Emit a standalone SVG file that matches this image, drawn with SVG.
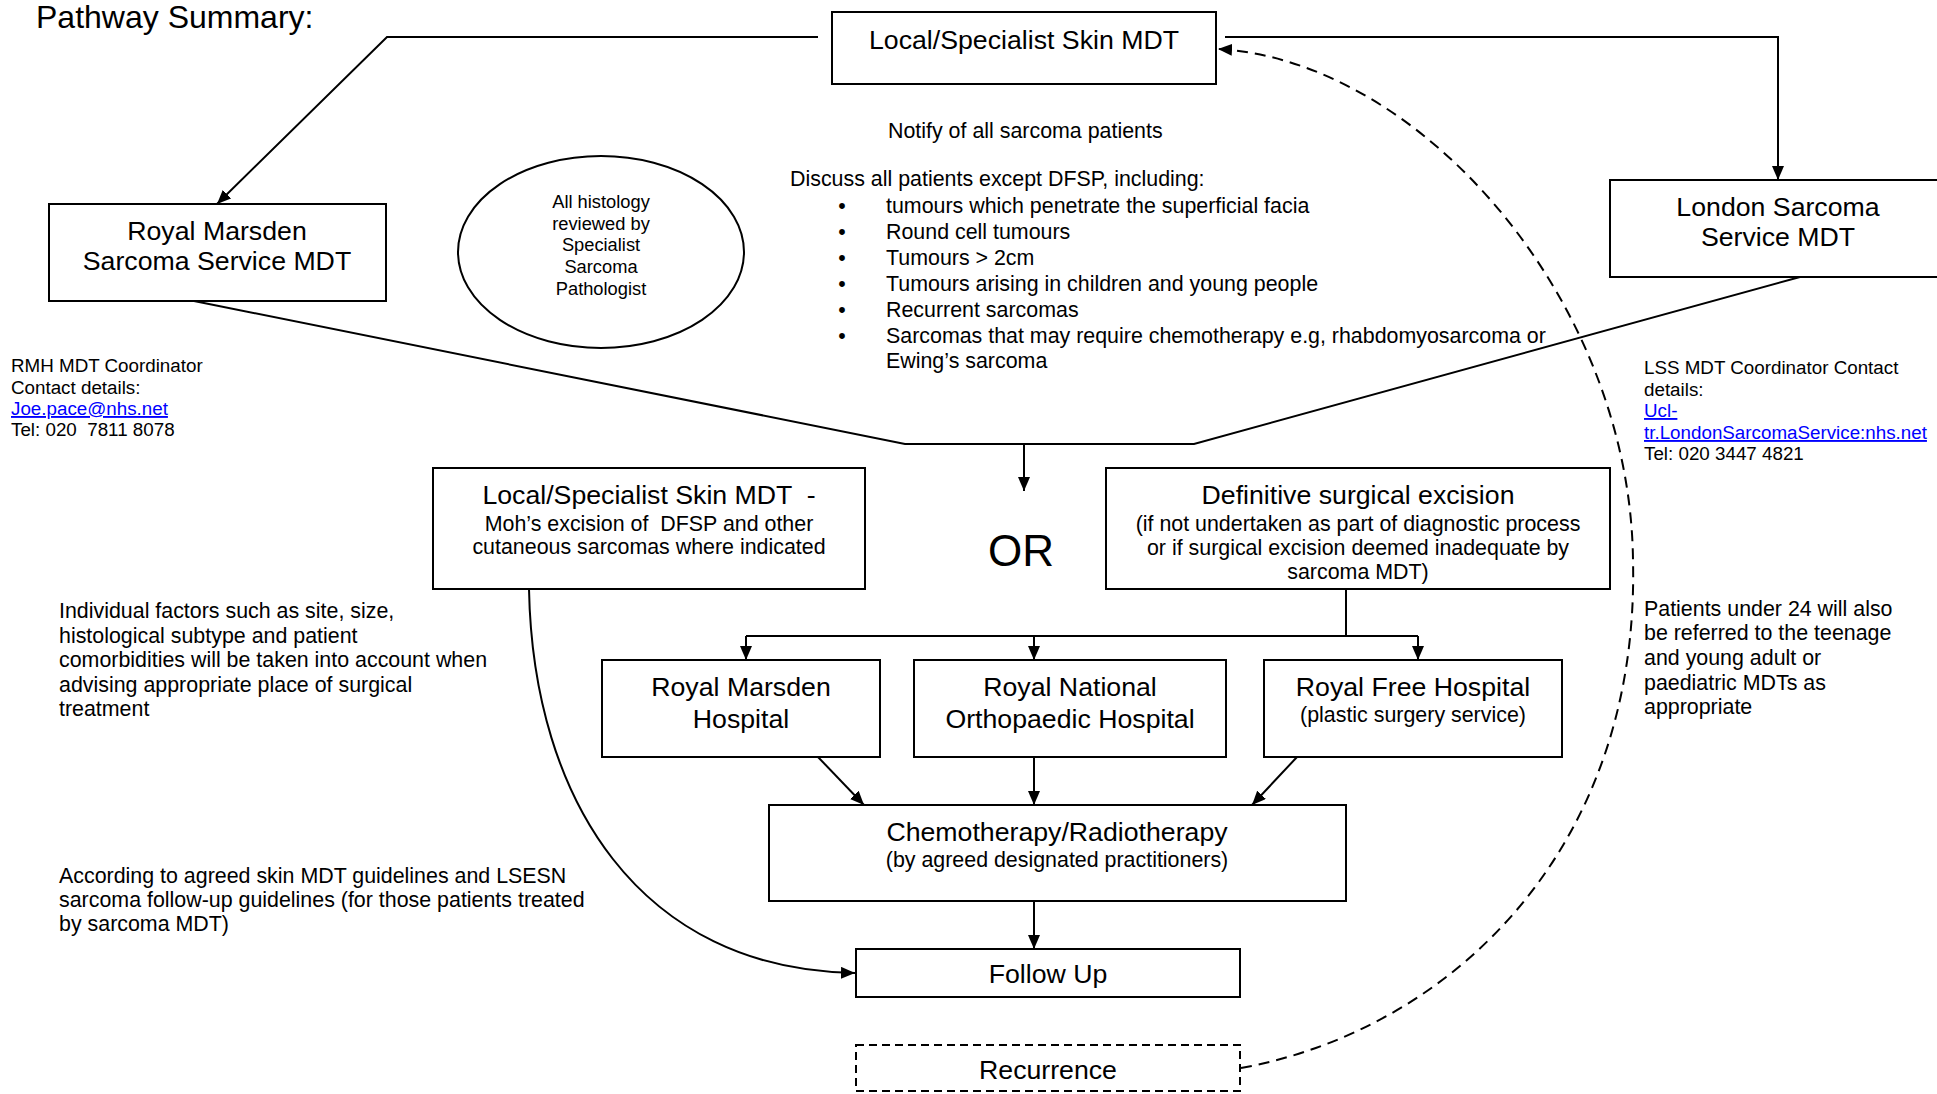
<svg xmlns="http://www.w3.org/2000/svg" width="1937" height="1094" viewBox="0 0 1937 1094">
<style>
  text { font-family: "Liberation Sans", Arial, sans-serif; fill: #000; }
  .box { fill: #fff; stroke: #000; stroke-width: 2; }
  .dbox { fill: #fff; stroke: #000; stroke-width: 2; stroke-dasharray: 8 5; }
  .ln { fill: none; stroke: #000; stroke-width: 2; }
  .dash { fill: none; stroke: #000; stroke-width: 2; stroke-dasharray: 11 7; }
  .t26 { font-size: 26.7px; }
  .t21 { font-size: 21.4px; }
  .t18 { font-size: 18.8px; }
  .t17 { font-size: 18.3px; }
  .mid { text-anchor: middle; }
  .link { fill: #0000ff; text-decoration: underline; }
</style>
<defs>
  <marker id="arr" viewBox="0 0 14 12" refX="14" refY="6" markerWidth="14" markerHeight="12" markerUnits="userSpaceOnUse" orient="auto">
    <path d="M0,0 L14,6 L0,12 Z" fill="#000" stroke="none"/>
  </marker>
</defs>
<rect x="0" y="0" width="1937" height="1094" fill="#fff"/>

<text x="36" y="28" font-size="32">Pathway Summary:</text>

<g id="connectors">
  <polyline class="ln" points="818,37 387,37 217,204" marker-end="url(#arr)"/>
  <polyline class="ln" points="1225,37 1778,37 1778,180" marker-end="url(#arr)"/>
  <polyline class="ln" points="194,301 905,444 1194,444 1800,277"/>
  <line class="ln" x1="1024" y1="444" x2="1024" y2="491" marker-end="url(#arr)"/>
  <polyline class="ln" points="1346,589 1346,636"/>
  <line class="ln" x1="746" y1="636" x2="1418" y2="636"/>
  <line class="ln" x1="746" y1="636" x2="746" y2="660" marker-end="url(#arr)"/>
  <line class="ln" x1="1034" y1="636" x2="1034" y2="660" marker-end="url(#arr)"/>
  <line class="ln" x1="1418" y1="636" x2="1418" y2="660" marker-end="url(#arr)"/>
  <line class="ln" x1="818" y1="757" x2="864" y2="805" marker-end="url(#arr)"/>
  <line class="ln" x1="1034" y1="757" x2="1034" y2="805" marker-end="url(#arr)"/>
  <line class="ln" x1="1297" y1="757" x2="1252" y2="805" marker-end="url(#arr)"/>
  <line class="ln" x1="1034" y1="901" x2="1034" y2="949" marker-end="url(#arr)"/>
  <path class="ln" d="M529,589 C533,800 640,970 855,973" marker-end="url(#arr)"/>
  <path class="dash" d="M1241,1068 C1450,1030 1640,850 1633,560 C1630,300 1420,60 1218,49" marker-end="url(#arr)"/>
</g>

<g id="local-skin-mdt">
  <rect class="box" x="832" y="12" width="384" height="72"/>
  <text class="t26 mid" x="1024" y="49">Local/Specialist Skin MDT</text>
</g>

<g id="royal-marsden-mdt">
  <rect class="box" x="49" y="204" width="337" height="97"/>
  <text class="t26 mid" x="217" y="240">Royal Marsden</text>
  <text class="t26 mid" x="217" y="270">Sarcoma Service MDT</text>
</g>

<g id="london-sarcoma-mdt">
  <rect class="box" x="1610" y="180" width="340" height="97"/>
  <text class="t26 mid" x="1778" y="216">London Sarcoma</text>
  <text class="t26 mid" x="1778" y="246">Service MDT</text>
</g>

<g id="histology">
  <ellipse cx="601" cy="252" rx="143" ry="96" fill="#fff" stroke="#000" stroke-width="2"/>
  <text class="t17 mid" x="601" y="208">All histology</text>
  <text class="t17 mid" x="601" y="230">reviewed by</text>
  <text class="t17 mid" x="601" y="251">Specialist</text>
  <text class="t17 mid" x="601" y="273">Sarcoma</text>
  <text class="t17 mid" x="601" y="295">Pathologist</text>
</g>

<g id="notes-center">
  <text class="t21" x="888" y="138">Notify of all sarcoma patients</text>
  <text class="t21" x="790" y="186">Discuss all patients except DFSP, including:</text>
  <text class="t21 mid" x="842" y="213">•</text>
  <text class="t21" x="886" y="213">tumours which penetrate the superficial facia</text>
  <text class="t21 mid" x="842" y="239">•</text>
  <text class="t21" x="886" y="239">Round cell tumours</text>
  <text class="t21 mid" x="842" y="265">•</text>
  <text class="t21" x="886" y="265">Tumours &gt; 2cm</text>
  <text class="t21 mid" x="842" y="291">•</text>
  <text class="t21" x="886" y="291">Tumours arising in children and young people</text>
  <text class="t21 mid" x="842" y="317">•</text>
  <text class="t21" x="886" y="317">Recurrent sarcomas</text>
  <text class="t21 mid" x="842" y="343">•</text>
  <text class="t21" x="886" y="343">Sarcomas that may require chemotherapy e.g, rhabdomyosarcoma or</text>
  <text class="t21" x="886" y="368">Ewing’s sarcoma</text>
</g>

<g id="rmh-contact">
  <text class="t18" x="11" y="372">RMH MDT Coordinator</text>
  <text class="t18" x="11" y="394">Contact details:</text>
  <text class="t18 link" x="11" y="415">Joe.pace@nhs.net</text>
  <text class="t18" x="11" y="436" xml:space="preserve">Tel: 020  7811 8078</text>
</g>

<g id="lss-contact">
  <text class="t18" x="1644" y="374">LSS MDT Coordinator Contact</text>
  <text class="t18" x="1644" y="396">details:</text>
  <text class="t18 link" x="1644" y="417">Ucl-</text>
  <text class="t18 link" x="1644" y="439">tr.LondonSarcomaService:nhs.net</text>
  <text class="t18" x="1644" y="460">Tel: 020 3447 4821</text>
</g>

<g id="mohs-excision">
  <rect class="box" x="433" y="468" width="432" height="121"/>
  <text class="t26 mid" x="649" y="504" xml:space="preserve">Local/Specialist Skin MDT  -</text>
  <text class="t21 mid" x="649" y="531" xml:space="preserve">Moh’s excision of  DFSP and other</text>
  <text class="t21 mid" x="649" y="554">cutaneous sarcomas where indicated</text>
</g>

<text x="1021" y="566" font-size="44" text-anchor="middle">OR</text>

<g id="definitive-excision">
  <rect class="box" x="1106" y="468" width="504" height="121"/>
  <text class="t26 mid" x="1358" y="504">Definitive surgical excision</text>
  <text class="t21 mid" x="1358" y="531">(if not undertaken as part of diagnostic process</text>
  <text class="t21 mid" x="1358" y="555">or if surgical excision deemed inadequate by</text>
  <text class="t21 mid" x="1358" y="579">sarcoma MDT)</text>
</g>

<g id="notes-left">
  <text class="t21" x="59" y="618">Individual factors such as site, size,</text>
  <text class="t21" x="59" y="643">histological subtype and patient</text>
  <text class="t21" x="59" y="667">comorbidities will be taken into account when</text>
  <text class="t21" x="59" y="692">advising appropriate place of surgical</text>
  <text class="t21" x="59" y="716">treatment</text>
  <text class="t21" x="59" y="883">According to agreed skin MDT guidelines and LSESN</text>
  <text class="t21" x="59" y="907">sarcoma follow-up guidelines (for those patients treated</text>
  <text class="t21" x="59" y="931">by sarcoma MDT)</text>
</g>

<g id="notes-right">
  <text class="t21" x="1644" y="616">Patients under 24 will also</text>
  <text class="t21" x="1644" y="640">be referred to the teenage</text>
  <text class="t21" x="1644" y="665">and young adult or</text>
  <text class="t21" x="1644" y="690">paediatric MDTs as</text>
  <text class="t21" x="1644" y="714">appropriate</text>
</g>

<g id="royal-marsden-hospital">
  <rect class="box" x="602" y="660" width="278" height="97"/>
  <text class="t26 mid" x="741" y="696">Royal Marsden</text>
  <text class="t26 mid" x="741" y="728">Hospital</text>
</g>

<g id="rnoh">
  <rect class="box" x="914" y="660" width="312" height="97"/>
  <text class="t26 mid" x="1070" y="696">Royal National</text>
  <text class="t26 mid" x="1070" y="728">Orthopaedic Hospital</text>
</g>

<g id="royal-free">
  <rect class="box" x="1264" y="660" width="298" height="97"/>
  <text class="t26 mid" x="1413" y="696">Royal Free Hospital</text>
  <text class="t21 mid" x="1413" y="722">(plastic surgery service)</text>
</g>

<g id="chemo">
  <rect class="box" x="769" y="805" width="577" height="96"/>
  <text class="t26 mid" x="1057" y="841">Chemotherapy/Radiotherapy</text>
  <text class="t21 mid" x="1057" y="867">(by agreed designated practitioners)</text>
</g>

<g id="follow-up">
  <rect class="box" x="856" y="949" width="384" height="48"/>
  <text class="t26 mid" x="1048" y="983">Follow Up</text>
</g>

<g id="recurrence">
  <rect class="dbox" x="856" y="1045" width="384" height="46"/>
  <text class="t26 mid" x="1048" y="1079">Recurrence</text>
</g>
</svg>
